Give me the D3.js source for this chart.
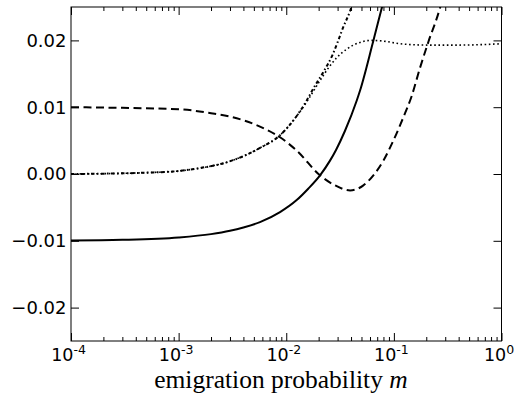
<!DOCTYPE html>
<html>
<head>
<meta charset="utf-8">
<script src="https://cdn.jsdelivr.net/npm/d3@7"></script>
<style>
  body { margin: 0; background: #fff; }
  svg { display: block; }
</style>
</head>
<body>
<svg id="chart"></svg>
<script>
const width = 521;
const height = 400;
const margin = {top: 7, right: 19.5, bottom: 59, left: 71};

// values, one m-grid per curve
const solidM = [0.0001, 0.0003, 0.001, 0.002, 0.003, 0.004, 0.0057, 0.00875, 0.0125, 0.016, 0.0206, 0.0255, 0.029, 0.035, 0.0452, 0.0485, 0.0641, 0.0773, 0.09];
const solidV = [-0.00995, -0.00985, -0.0095, -0.0090, -0.0085, -0.0080, -0.0072, -0.0057, -0.0039, -0.0022, -0.0002, 0.0020, 0.0036, 0.0064, 0.0110, 0.0125, 0.0198, 0.0249, 0.0290];

const dashedM = [0.0001, 0.0003, 0.001, 0.002, 0.003, 0.0057, 0.00875, 0.0125, 0.0206, 0.0284, 0.0392, 0.0521, 0.0645, 0.0799, 0.0989, 0.1226, 0.1466, 0.175, 0.2094, 0.2685, 0.3];
const dashedV = [0.0100, 0.0099, 0.0097, 0.0091, 0.0086, 0.0071, 0.0055, 0.0035, -0.0002, -0.0017, -0.00246, -0.0017, -0.0002, 0.0020, 0.0050, 0.0085, 0.0117, 0.0159, 0.0198, 0.0249, 0.0280];

const dottedM = [0.0001, 0.0002, 0.0005, 0.001, 0.0016, 0.003, 0.0057, 0.00875, 0.012, 0.0155, 0.0206, 0.0255, 0.0294, 0.0365, 0.0485, 0.0601, 0.0794, 0.114, 0.202, 0.412, 1.0];
const dottedV = [0.0000, 0.00005, 0.0002, 0.00045, 0.0009, 0.0019, 0.0039, 0.0058, 0.0083, 0.0108, 0.0140, 0.0162, 0.0174, 0.0187, 0.0197, 0.0200, 0.0199, 0.0195, 0.0193, 0.0193, 0.0195];

const dashDotM = [0.0001, 0.0002, 0.0005, 0.001, 0.0016, 0.003, 0.0057, 0.00875, 0.012, 0.0155, 0.0177, 0.022, 0.0272, 0.0303, 0.0337, 0.0392, 0.045];
const dashDotV = [0.0000, 0.00005, 0.0002, 0.00045, 0.0009, 0.0019, 0.0039, 0.0058, 0.0083, 0.0110, 0.0127, 0.0152, 0.0180, 0.0199, 0.0219, 0.0244, 0.0275];

const yTicks = [-0.02, -0.01, 0.00, 0.01, 0.02];
const yTickLabels = ["\u22120.02", "\u22120.01", "0.00", "0.01", "0.02"];
const xMajor = [1e-4, 1e-3, 1e-2, 1e-1, 1];
const xExponents = ["-4", "-3", "-2", "-1", "0"];
const xTitle = "emigration probability ";
const xTitleVar = "m";

const svg = d3.select("#chart").attr("width", width).attr("height", height);

const x = d3.scaleLog().domain([1e-4, 1]).range([margin.left, width - margin.right]);
const y = d3.scaleLinear().domain([-0.025, 0.025]).range([height - margin.bottom, margin.top]);

const x0 = x.range()[0], x1 = x.range()[1];
const y0 = y.range()[0], y1 = y.range()[1];

svg.append("defs").append("clipPath").attr("id", "plot")
    .append("rect")
    .attr("x", x0).attr("y", y1)
    .attr("width", x1 - x0).attr("height", y0 - y1);

// ==================== curves =====================
const line = d3.line()
    .x(d => x(d[0]))
    .y(d => y(d[1]))
    .curve(d3.curveMonotoneX);

const series = [
    {m: dashedM, v: dashedV, w: 2, dash: "8,4.5"},
    {m: dottedM, v: dottedV, w: 1.6, dash: "1.6,2.6"},
    {m: dashDotM, v: dashDotV, w: 2, dash: "3.5,2.5,1.5,2.5"},
    {m: solidM, v: solidV, w: 2, dash: null}
];

const curves = svg.append("g").attr("clip-path", "url(#plot)");
series.forEach(s => {
    curves.append("path")
        .datum(s.m.map((m, i) => [m, s.v[i]]))
        .attr("d", line)
        .attr("fill", "none")
        .attr("stroke", "#000")
        .attr("stroke-width", s.w)
        .attr("stroke-dasharray", s.dash);
});

// ==================== axes =====================
const minor = x.ticks().filter(t => xMajor.indexOf(t) < 0);

function inward(g) {
    g.select(".domain").remove();
    g.selectAll("line").attr("stroke", "#000");
}

svg.append("g").attr("transform", `translate(0,${y0})`)
    .call(d3.axisBottom(x).tickValues(minor).tickSize(-4).tickFormat(""))
    .call(inward);
svg.append("g").attr("transform", `translate(0,${y0})`)
    .call(d3.axisBottom(x).tickValues(xMajor).tickSize(-8).tickFormat(""))
    .call(inward);
svg.append("g").attr("transform", `translate(0,${y1})`)
    .call(d3.axisTop(x).tickValues(minor).tickSize(-4).tickFormat(""))
    .call(inward);
svg.append("g").attr("transform", `translate(0,${y1})`)
    .call(d3.axisTop(x).tickValues(xMajor).tickSize(-8).tickFormat(""))
    .call(inward);
svg.append("g").attr("transform", `translate(${x0},0)`)
    .call(d3.axisLeft(y).tickValues(yTicks).tickSize(-8).tickFormat(""))
    .call(inward);
svg.append("g").attr("transform", `translate(${x1},0)`)
    .call(d3.axisRight(y).tickValues(yTicks).tickSize(-8).tickFormat(""))
    .call(inward);

svg.append("rect")
    .attr("x", x0).attr("y", y1)
    .attr("width", x1 - x0).attr("height", y0 - y1)
    .attr("fill", "none")
    .attr("stroke", "#000")
    .attr("stroke-width", 1);

// tick labels
svg.append("g").selectAll("text")
    .data(yTicks)
    .enter()
    .append("text")
    .attr("x", x0 - 4.5)
    .attr("y", d => y(d))
    .attr("dy", "0.36em")
    .attr("text-anchor", "end")
    .attr("font-family", "DejaVu Sans")
    .attr("font-size", 18)
    .text((d, i) => yTickLabels[i]);

const xl = svg.append("g").selectAll("text")
    .data(xMajor)
    .enter()
    .append("text")
    .attr("x", d => x(d) - 2.5)
    .attr("y", 361)
    .attr("text-anchor", "middle")
    .attr("font-family", "DejaVu Sans")
    .attr("font-size", 17.5);
xl.append("tspan").text("10");
xl.append("tspan")
    .attr("dy", -7)
    .attr("font-size", 12.5)
    .text((d, i) => xExponents[i]);

const title = svg.append("text")
    .attr("x", 281)
    .attr("y", 388)
    .attr("text-anchor", "middle")
    .attr("font-family", "Liberation Serif")
    .attr("font-size", 25.5)
    .text(xTitle);
title.append("tspan").attr("font-style", "italic").text(xTitleVar);
</script>
</body>
</html>
